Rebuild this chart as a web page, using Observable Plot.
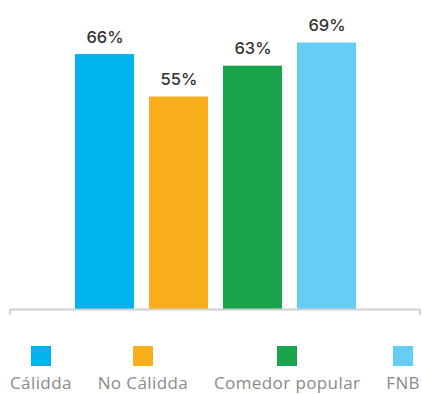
<!DOCTYPE html>
<html>
<head>
<meta charset="utf-8">
<script src="https://cdn.jsdelivr.net/npm/d3@7"></script>
<script src="https://cdn.jsdelivr.net/npm/@observablehq/plot@0.6"></script>
<style>
  html, body { margin: 0; padding: 0; background: #fff; }
  #wrap { width: 422px; font-family: "Open Sans", sans-serif; }
  #legend { display: flex; justify-content: space-between; padding: 26px 2px 0 10px; }
  .item { display: flex; flex-direction: column; align-items: center; }
  .sw { width: 20px; height: 20px; }
  .lab { margin-top: 7px; font-size: 17px; letter-spacing: 0.4px; color: #8a8a8a; line-height: 20px; white-space: nowrap; }
</style>
</head>
<body>
<div id="wrap"></div>
<script>
const categories = ["Cálidda", "No Cálidda", "Comedor popular", "FNB"];
const values = [66, 55, 63, 69];
const colors = ["#00b3ee", "#f9ae1b", "#19a34a", "#66cef4"];

const data = categories.map((c, i) => ({cat: c, value: values[i]}));

const chart = Plot.plot({
  width: 422,
  height: 320,
  marginTop: 0,
  marginBottom: 11,
  marginLeft: 10,
  marginRight: 2,
  x: {domain: categories, range: [74, 357], paddingInner: 0.2, paddingOuter: 0, axis: null},
  y: {domain: [0, 80], axis: null},
  color: {domain: categories, range: colors},
  marks: [
    Plot.barY(data, {x: "cat", y: "value", fill: "cat"}),
    Plot.text(data, {x: "cat", y: "value", text: d => d.value + "%", dy: -17,
      fontSize: 16.5, fontWeight: 500, fill: "#333", fontFamily: "Inter"}),
    Plot.ruleY([0], {stroke: "#cfcfcf", strokeWidth: 2,
      render: (index, scales, vals, dims, context, next) => {
        const g = next(index, scales, vals, dims, context);
        const y0 = scales.y(0);
        const xs = [dims.marginLeft, dims.width - dims.marginRight];
        for (const x of xs) {
          const line = document.createElementNS("http://www.w3.org/2000/svg", "line");
          line.setAttribute("x1", x); line.setAttribute("x2", x);
          line.setAttribute("y1", y0); line.setAttribute("y2", y0 + 5);
          line.setAttribute("stroke", "#cfcfcf");
          line.setAttribute("stroke-width", 2);
          g.appendChild(line);
        }
        return g;
      }})
  ]
});

const wrap = document.getElementById("wrap");
wrap.appendChild(chart);

const legend = document.createElement("div");
legend.id = "legend";
categories.forEach((c, i) => {
  const item = document.createElement("div");
  item.className = "item";
  const sw = document.createElement("div");
  sw.className = "sw";
  sw.style.background = colors[i];
  const lab = document.createElement("div");
  lab.className = "lab";
  lab.textContent = c;
  item.appendChild(sw);
  item.appendChild(lab);
  legend.appendChild(item);
});
wrap.appendChild(legend);
</script>
</body>
</html>
